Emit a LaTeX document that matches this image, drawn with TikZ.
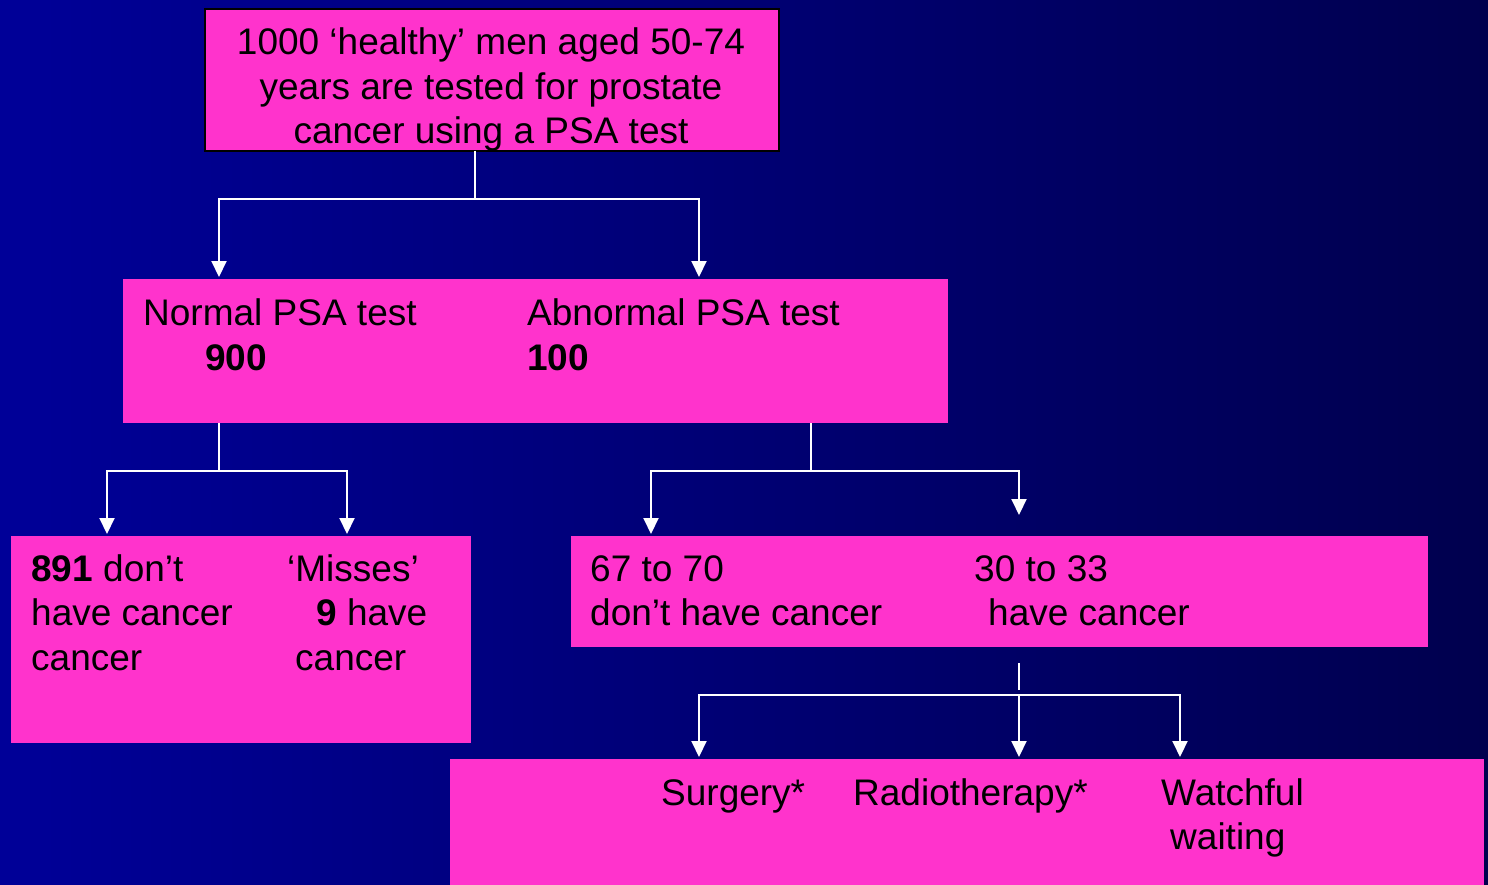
\documentclass[tikz,border=0pt]{standalone}
\usepackage{fontspec}
\setmainfont{Liberation Sans}
\usetikzlibrary{arrows.meta}
\definecolor{pinkbox}{HTML}{FF33CC}
\definecolor{bgleft}{HTML}{000098}
\definecolor{bgright}{HTML}{00004E}
\tikzset{
  box/.style={fill=pinkbox, draw=none, inner sep=0pt, outer sep=0pt, anchor=north west},
  txt/.style={inner sep=0pt, anchor=base west, text=black, font=\fontsize{37}{45}\selectfont},
  ctxt/.style={txt, anchor=base},
  wline/.style={draw=white, line width=2pt},
  arr/.style={wline, -{Triangle[width=15pt,length=16pt]}, shorten >=2pt},
}
\begin{document}
\begin{tikzpicture}[x=1pt,y=-1pt]
\useasboundingbox (0,0) rectangle (1488,884);
\shade[left color=bgleft, right color=bgright] (0,0) rectangle (1488,884);

% boxes
\node[box, draw=black, line width=2pt, minimum width=574pt, minimum height=142pt] (top) at (204.5,8.5) {};
\node[box, minimum width=825pt, minimum height=144pt] (mid) at (123,279) {};
\node[box, minimum width=460pt, minimum height=207pt] (lb) at (11,536) {};
\node[box, minimum width=857pt, minimum height=111pt] (rb) at (571,536) {};
\node[box, minimum width=1034pt, minimum height=126pt] (bot) at (450,759) {};

% texts
\node[ctxt] (t1) at (491,54) {1000 ‘healthy’ men aged 50-74};
\node[ctxt] (t2) at (491,99) {years are tested for prostate};
\node[ctxt] (t3) at (491,143) {cancer using a PSA test};

\node[txt] (n1) at (143,325) {Normal PSA test};
\node[txt] (n2) at (205,370) {\bfseries 900};
\node[txt] (a1) at (527,325) {Abnormal PSA test};
\node[txt] (a2) at (527,370) {\bfseries 100};

\node[txt] (l1) at (31,581) {{\bfseries 891} don’t};
\node[txt] (l2) at (31,625) {have cancer};
\node[txt] (l3) at (31,670) {cancer};
\node[txt] (m1) at (287,581) {‘Misses’};
\node[txt] (m2) at (316,625) {{\bfseries 9} have};
\node[txt] (m3) at (295,670) {cancer};

\node[txt] (r1) at (590,581) {67 to 70};
\node[txt] (r2) at (590,625) {don’t have cancer};
\node[txt] (s1) at (974,581) {30 to 33};
\node[txt] (s2) at (988,625) {have cancer};

\node[txt] (b1) at (661,805) {Surgery*};
\node[txt] (b2) at (853,805) {Radiotherapy*};
\node[txt] (b3) at (1161,805) {Watchful};
\node[txt] (b4) at (1170,849) {waiting};

% connectors level 1
\coordinate (j1) at (475,199);
\coordinate (x1a) at (219,0);
\coordinate (x1b) at (699,0);
\draw[wline] (top.south -| j1) -- (j1);
\draw[arr] (j1) -| (mid.north -| x1a);
\draw[arr] (j1) -| (mid.north -| x1b);

% connectors level 2 left
\coordinate (j2) at (219,471);
\coordinate (x2a) at (107,0);
\coordinate (x2b) at (347,0);
\draw[wline] (mid.south -| j2) -- (j2);
\draw[arr] (j2) -| (lb.north -| x2a);
\draw[arr] (j2) -| (lb.north -| x2b);

% connectors level 2 right
\coordinate (j3) at (811,471);
\coordinate (x3a) at (651,0);
\coordinate (e3) at (1019,517);
\draw[wline] (mid.south -| j3) -- (j3);
\draw[arr] (j3) -| (rb.north -| x3a);
\draw[arr] (j3) -| (e3);

% connectors level 3
\coordinate (v1) at (1019,663);
\coordinate (v2) at (1019,690);
\draw[wline] (v1) -- (v2);
\coordinate (k) at (1019,695);
\coordinate (x4a) at (699,0);
\coordinate (x4c) at (1180,0);
\draw[arr] (k) -| (bot.north -| x4a);
\draw[arr] (k) -- (bot.north -| k);
\draw[arr] (k) -| (bot.north -| x4c);
\end{tikzpicture}
\end{document}
